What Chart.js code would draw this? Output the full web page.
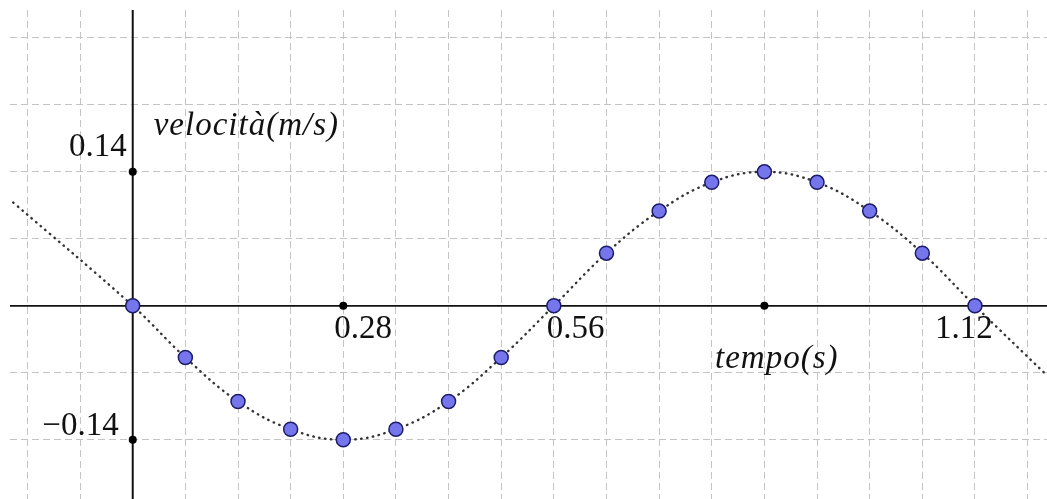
<!DOCTYPE html>
<html>
<head>
<meta charset="utf-8">
<script src="https://cdn.jsdelivr.net/npm/chart.js@4/dist/chart.umd.min.js"></script>
<style>
  body { margin: 0; background: #fff; }
  canvas { display: block; }
</style>
</head>
<body>
<canvas id="grafico" width="1047" height="499"></canvas>
<script>
// tempo (s) dei punti misurati
const tempo = [0, 0.07, 0.14, 0.21, 0.28, 0.35, 0.42, 0.49, 0.56, 0.63, 0.70, 0.77, 0.84, 0.91, 0.98, 1.05, 1.12];
// velocità (m/s)
const velocita = [0, -0.054, -0.100, -0.129, -0.140, -0.129, -0.100, -0.054, 0, 0.055, 0.099, 0.129, 0.140, 0.129, 0.099, 0.055, 0];

// curva punteggiata: stessi punti più i due estremi visibili
const curvaT = [-0.159, ...tempo, 1.216];
const curvaV = [0.108, ...velocita, -0.073];

// tacche sugli assi
const tackX = [0.28, 0.56, 0.84, 1.12];
const tackY = [0.14, -0.14];
const etichetteX = ['0.28', '0.56', '', '1.12'];
const etichetteY = ['0.14', '\u22120.14'];

const passoGriglia = 0.07;

function toXY(xs, ys) {
    return xs.map((x, i) => ({ x: x, y: ys[i] }));
}

function grigliaTicks(scale) {
    const ticks = [];
    const start = Math.ceil(scale.min / passoGriglia - 1e-9);
    const end = Math.floor(scale.max / passoGriglia + 1e-9);
    for (let k = start; k <= end; k++) {
        ticks.push({ value: +(k * passoGriglia).toFixed(4) });
    }
    scale.ticks = ticks;
}

const tackPunti = tackX.map(x => ({ x: x, y: 0 })).concat(tackY.map(y => ({ x: 0, y: y })));

const assiPlugin = {
    id: 'assi',
    beforeDatasetsDraw(chart) {
        const { ctx, chartArea, scales } = chart;
        const x0 = scales.x.getPixelForValue(0);
        const y0 = scales.y.getPixelForValue(0);
        ctx.save();
        ctx.strokeStyle = '#111';
        ctx.lineWidth = 1.7;
        ctx.beginPath();
        ctx.moveTo(chartArea.left, y0);
        ctx.lineTo(chartArea.right, y0);
        ctx.stroke();
        ctx.lineWidth = 2;
        ctx.beginPath();
        ctx.moveTo(x0, chartArea.top);
        ctx.lineTo(x0, chartArea.bottom);
        ctx.stroke();
        ctx.restore();
    },
    afterDatasetsDraw(chart) {
        const { ctx, scales } = chart;
        const x0 = scales.x.getPixelForValue(0);
        const y0 = scales.y.getPixelForValue(0);
        ctx.save();
        ctx.fillStyle = '#111';
        ctx.textBaseline = 'alphabetic';
        ctx.font = '33px "Liberation Serif", serif';

        // etichette asse x
        const offX = [-9, -7, 0, -40];
        tackX.forEach((v, i) => {
            if (!etichetteX[i]) return;
            ctx.textAlign = 'left';
            ctx.fillText(etichetteX[i], scales.x.getPixelForValue(v) + offX[i], y0 + 32);
        });

        // etichette asse y
        const offY = [[-6, -16], [-14, -5]];
        tackY.forEach((v, i) => {
            ctx.textAlign = 'right';
            ctx.fillText(etichetteY[i], x0 + offY[i][0], scales.y.getPixelForValue(v) + offY[i][1]);
        });

        // nomi degli assi
        ctx.font = 'italic 33px "Liberation Serif", serif';
        ctx.letterSpacing = '1px';
        ctx.textAlign = 'left';
        ctx.fillText('velocità(m/s)', x0 + 21, 135);
        ctx.fillText('tempo(s)', 715, 368);
        ctx.restore();
    }
};

new Chart(document.getElementById('grafico'), {
    type: 'scatter',
    data: {
        datasets: [
            {
                data: toXY(tempo, velocita),
                pointRadius: 7,
                pointBackgroundColor: '#7676ec',
                pointBorderColor: '#1c1c6a',
                pointBorderWidth: 1.5,
                showLine: false,
                order: 0
            },
            {
                data: toXY(curvaT, curvaV),
                showLine: true,
                pointRadius: 0,
                borderColor: '#333',
                borderWidth: 2.4,
                borderDash: [0.5, 5.5],
                borderCapStyle: 'round',
                tension: 0.4,
                fill: false,
                order: 1
            },
            {
                data: tackPunti,
                pointRadius: 4,
                pointBackgroundColor: '#000',
                pointBorderColor: '#000',
                pointBorderWidth: 0,
                showLine: false,
                order: 2
            }
        ]
    },
    options: {
        responsive: false,
        animation: false,
        layout: { autoPadding: false, padding: { left: 10, top: 10, right: 0, bottom: 0 } },
        plugins: {
            legend: { display: false },
            tooltip: { enabled: false }
        },
        scales: {
            x: {
                type: 'linear',
                min: -0.1632,
                max: 1.2158,
                afterBuildTicks: grigliaTicks,
                ticks: { display: false },
                grid: { color: '#c4c4c4', lineWidth: 1, drawTicks: false },
                border: { display: false, dash: [7, 4] }
            },
            y: {
                type: 'linear',
                min: -0.2019,
                max: 0.3091,
                afterBuildTicks: grigliaTicks,
                ticks: { display: false },
                grid: { color: '#c4c4c4', lineWidth: 1, drawTicks: false },
                border: { display: false, dash: [7, 4] }
            }
        }
    },
    plugins: [assiPlugin]
});
</script>
</body>
</html>
